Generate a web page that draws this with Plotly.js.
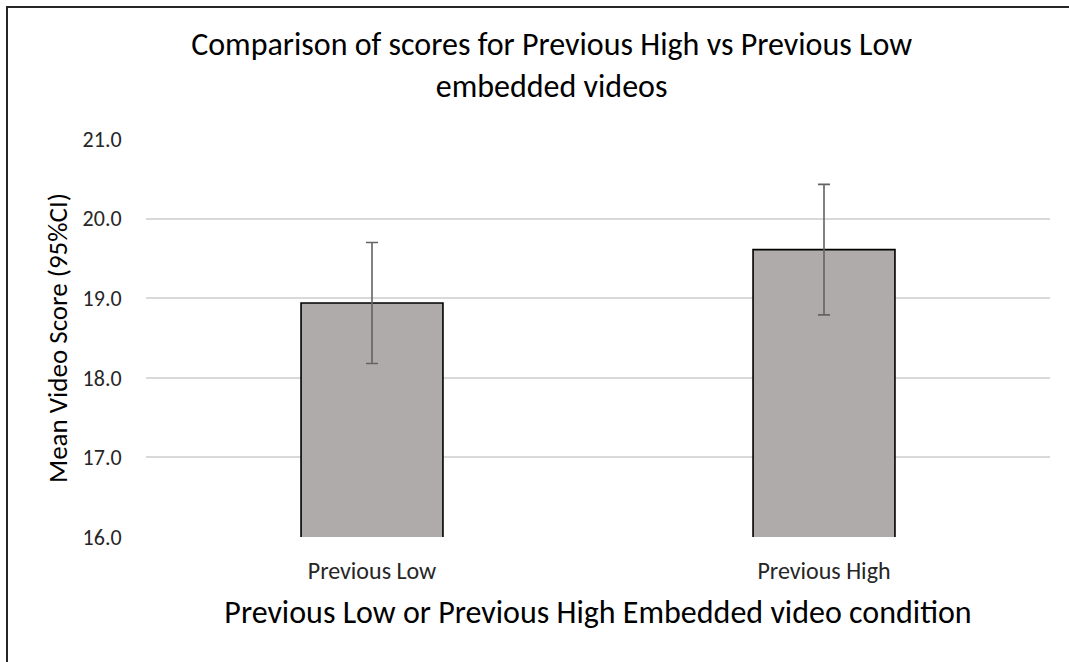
<!DOCTYPE html>
<html>
<head>
<meta charset="utf-8">
<script src="https://cdn.plot.ly/plotly-3.0.1.min.js"></script>
<style>
html,body{margin:0;padding:0;background:#fff;}
#chart{position:absolute;left:0;top:0;width:1069px;height:662px;}
#frame{position:absolute;left:6px;top:6px;width:1100px;height:700px;border-left:2px solid #262626;border-top:2px solid #262626;pointer-events:none;}
</style>
</head>
<body>
<div id="chart"></div>
<div id="frame"></div>
<script>
const categories = ["Previous Low", "Previous High"];
const meanScores = [18.94, 19.61];
const ciHalfWidths = [0.76, 0.82];
const yTickValues = [16, 17, 18, 19, 20, 21];

const FONT = "Carlito, Calibri, Lato, 'Open Sans', sans-serif";

const trace = {
  type: "bar",
  x: categories,
  y: meanScores,
  width: 0.314,
  marker: { color: "#AFABAB", line: { color: "#000000", width: 1.6 } },
  error_y: { type: "data", array: ciHalfWidths, visible: true, color: "#636363", thickness: 1.6, width: 6 },
  hoverinfo: "x+y"
};

const layout = {
  width: 1069, height: 662,
  margin: { l: 146, r: 19, t: 139, b: 125 },
  paper_bgcolor: "#ffffff", plot_bgcolor: "#ffffff",
  showlegend: false,
  font: { family: FONT, color: "#404040" },
  title: {
    text: "Comparison of scores for Previous High vs Previous Low<br>embedded videos",
    font: { family: FONT, size: 32, color: "#000000" },
    x: 0.516, xanchor: "center", xref: "container",
    y: 0.917, yanchor: "top", yref: "container"
  },
  xaxis: {
    type: "category",
    range: [-0.5, 1.5],
    showgrid: false, zeroline: false, showline: false,
    ticks: "outside", ticklen: 12, tickcolor: "rgba(0,0,0,0)",
    tickfont: { family: FONT, size: 24, color: "#262626" },
    title: { text: "Previous Low or Previous High Embedded video condition", font: { family: FONT, size: 32, color: "#000000" }, standoff: 16 }
  },
  yaxis: {
    range: [16, 21],
    tickvals: yTickValues,
    tickformat: ".1f",
    showgrid: true, gridcolor: "#D9D9D9", gridwidth: 1.5,
    zeroline: false, showline: false,
    ticks: "outside", ticklen: 19, tickcolor: "rgba(0,0,0,0)",
    tickfont: { family: FONT, size: 22, color: "#262626" },
    title: { text: "Mean Video Score (95%CI)", font: { family: FONT, size: 27, color: "#000000" }, standoff: 7 }
  },
  bargap: 0.686
};

Plotly.newPlot("chart", [trace], layout, { displayModeBar: false });
</script>
</body>
</html>
